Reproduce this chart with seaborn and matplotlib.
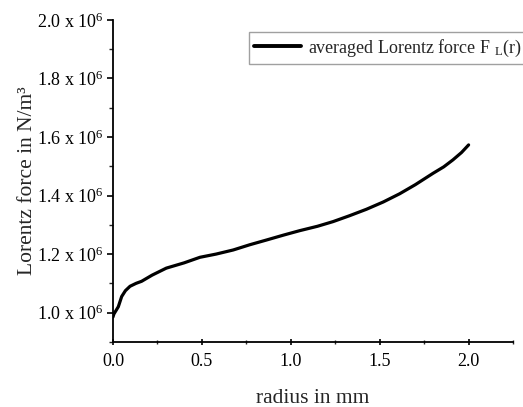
import numpy as np
import pandas as pd
import matplotlib
matplotlib.use("Agg")
import matplotlib.pyplot as plt
import seaborn as sns
from matplotlib.ticker import FixedLocator, MultipleLocator, FuncFormatter

radius_mm = [0.0, 0.005, 0.015, 0.03, 0.049, 0.07, 0.096, 0.13, 0.161, 0.22, 0.30,
             0.40, 0.489, 0.58, 0.676, 0.77, 0.863, 0.96, 1.05, 1.15, 1.238,
             1.33, 1.425, 1.52, 1.612, 1.70, 1.80, 1.86, 1.912, 1.96, 2.0]
force = [0.985e6, 0.995e6, 1.005e6, 1.02e6, 1.055e6, 1.075e6, 1.09e6, 1.10e6, 1.107e6,
         1.128e6, 1.152e6, 1.170e6, 1.189e6, 1.200e6, 1.214e6, 1.232e6, 1.248e6,
         1.265e6, 1.280e6, 1.295e6, 1.311e6, 1.331e6, 1.353e6, 1.378e6, 1.406e6,
         1.437e6, 1.476e6, 1.498e6, 1.522e6, 1.547e6, 1.573e6]
y_ticks = [1.0e6, 1.2e6, 1.4e6, 1.6e6, 1.8e6, 2.0e6]
x_ticks = [0.0, 0.5, 1.0, 1.5, 2.0]

sns.set_style("ticks")
plt.rcParams['font.family'] = ['Liberation Serif', 'DejaVu Serif']
plt.rcParams['mathtext.fontset'] = 'custom'
plt.rcParams['mathtext.rm'] = 'Liberation Serif'
plt.rcParams['mathtext.it'] = 'Liberation Serif:italic'

df = pd.DataFrame({"r": radius_mm, "F": force})

fig = plt.figure(figsize=(5.23, 4.07), dpi=100)
ax = fig.add_axes([0.216, 0.160, 0.765, 0.791])
sns.lineplot(data=df, x="r", y="F", ax=ax, color="black", linewidth=2.3,
             label=r"averaged Lorentz force F $_{\mathrm{L}}$(r)")

ax.set_xlim(0, 2.25)
ax.set_ylim(0.9e6, 2.0e6)
ax.xaxis.set_major_locator(FixedLocator(x_ticks))
ax.xaxis.set_minor_locator(MultipleLocator(0.25))
ax.yaxis.set_major_locator(FixedLocator(y_ticks))
ax.yaxis.set_minor_locator(MultipleLocator(0.1e6))
ax.xaxis.set_major_formatter(FuncFormatter(lambda v, p: f"{v:.1f}"))
ax.yaxis.set_major_formatter(FuncFormatter(lambda v, p: f"{v/1e6:.1f} x 10$^{{6}}$"))

for s in ["top", "right"]:
    ax.spines[s].set_visible(False)
for s in ["left", "bottom"]:
    ax.spines[s].set_linewidth(1.3)
    ax.spines[s].set_color("black")
ax.tick_params(axis="both", which="major", direction="out", length=4, width=1.2,
               labelsize=13, pad=6, colors="black")
ax.tick_params(axis="y", which="major", pad=2.5)
ax.tick_params(axis="both", which="minor", direction="out", length=3, width=1.0)
ax.tick_params(axis="x", which="both", direction="inout")

ax.set_xlabel("radius in mm", fontsize=15.5, labelpad=14)
ax.set_ylabel("Lorentz force in N/m³", fontsize=15.5, labelpad=0)

leg = ax.legend(loc="upper right", bbox_to_anchor=(1.058, 0.99), fontsize=13,
                frameon=True, fancybox=False, handlelength=2.6, borderpad=0.3,
                handletextpad=0.4)
leg.get_frame().set_edgecolor("#888888")
leg.get_frame().set_linewidth(1.0)
for l in leg.get_lines():
    l.set_linewidth(2.8)

fig.savefig("out.png", dpi=100)
